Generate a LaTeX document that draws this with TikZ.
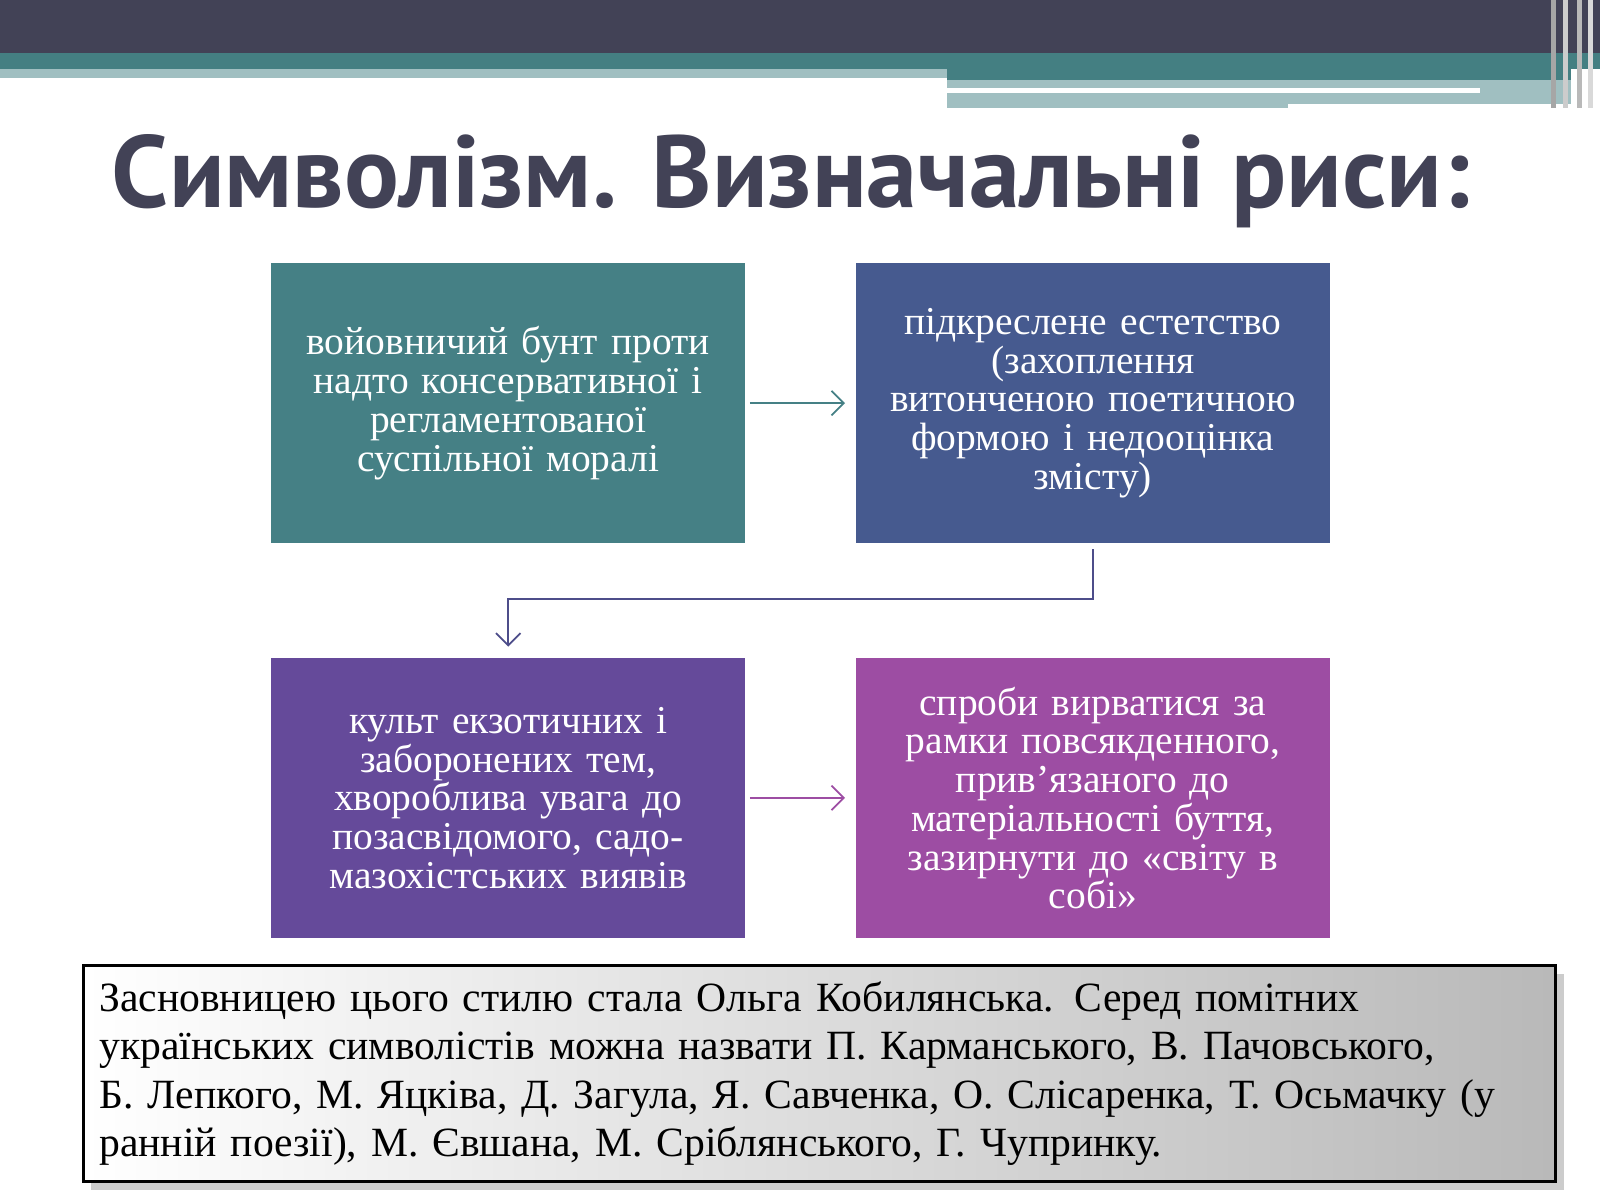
\documentclass[tikz,border=0pt]{standalone}
\usepackage{fontspec}
\setmainfont{Liberation Serif}
\newfontfamily\titlefont{PT Sans}
\usetikzlibrary{positioning,shadows,arrows.meta}
\definecolor{barDark}{HTML}{424256}
\definecolor{barTeal}{HTML}{447F82}
\definecolor{barLight}{HTML}{A0BFC1}
\definecolor{boxA}{HTML}{458085}
\definecolor{boxB}{HTML}{465A8F}
\definecolor{boxC}{HTML}{654A9A}
\definecolor{boxD}{HTML}{9D4DA3}
\definecolor{arrB}{HTML}{4D4D8A}
\tikzstyle{stepbox}=[rectangle,minimum width=4.62cm,minimum height=2.75cm,inner sep=2pt,text=white,align=center,text width=4.5cm,font=\fontsize{11}{10.8}\selectfont]
\tikzstyle{link}=[-{Straight Barb[length=1.2mm,width=2.4mm]},line width=0.5pt]
\begin{document}
\begin{tikzpicture}[x=0.01cm,y=-0.01cm]
	\useasboundingbox (0,0) rectangle (1568,1176);
	% header bars
	\fill[barDark] (0,0) rectangle (1568,52);
	\fill[barTeal] (0,52) rectangle (1568,68);
	\fill[barLight] (0,68) rectangle (928,76);
	\fill[barTeal] (928,68) rectangle (1540,78);
	\fill[barLight] (928,78) rectangle (1540,106);
	\fill[white] (928,86) rectangle (1450,91);
	\fill[white] (1262,102) rectangle (1540,106);
	\foreach \x/\c in {1520/gray!70,1532/gray!40,1545/gray!55,1556/gray!30}
		\fill[\c] (\x,0) rectangle ++(5,106);

	\node[font=\titlefont\bfseries\fontsize{28.5}{32}\selectfont,text=barDark] (title) at (775,178) {Символізм. Визначальні риси:};

	\node[stepbox,fill=boxA] (rebel) at (498,395) {войовничий бунт проти\\ надто консервативної і\\ регламентованої\\ суспільної моралі};
	\node[stepbox,fill=boxB] (aesth) at (1071,395) {підкреслене естетство\\ (захоплення\\ витонченою поетичною\\ формою і недооцінка\\ змісту)};
	\node[stepbox,fill=boxC] (cult) at (498,782) {культ екзотичних і\\ заборонених тем,\\ хвороблива увага до\\ позасвідомого, садо-\\ мазохістських виявів};
	\node[stepbox,fill=boxD] (escape) at (1071,782) {спроби вирватися за\\ рамки повсякденного,\\ прив{\char"0027}язаного до\\ матеріальності буття,\\ зазирнути до «світу в\\ собі»};

	\draw[link,boxA] ([xshift=0.04cm]rebel.east) -- ([xshift=-0.1cm]aesth.west);
	\draw[link,arrB] ([yshift=-0.05cm]aesth.south) |- (800,587) -| ([yshift=0.1cm]cult.north);
	\draw[link,boxD] ([xshift=0.04cm]cult.east) -- ([xshift=-0.1cm]escape.west);

	\node[draw=black,line width=0.8pt,left color=white,right color=gray!55,drop shadow={opacity=0.4},minimum width=14.32cm,minimum height=2.07cm,anchor=north west,align=left,text width=14.1cm,inner sep=0.16cm,font=\fontsize{11.6}{13.4}\selectfont] (note) at (80,945) {Засновницею цього стилю стала Ольга Кобилянська. Серед помітних\\ українських символістів можна назвати П. Карманського, В. Пачовського,\\ Б. Лепкого, М. Яцківа, Д. Загула, Я. Савченка, О. Слісаренка, Т. Осьмачку (у\\ ранній поезії), М. Євшана, М. Сріблянського, Г. Чупринку.};
\end{tikzpicture}
\end{document}
